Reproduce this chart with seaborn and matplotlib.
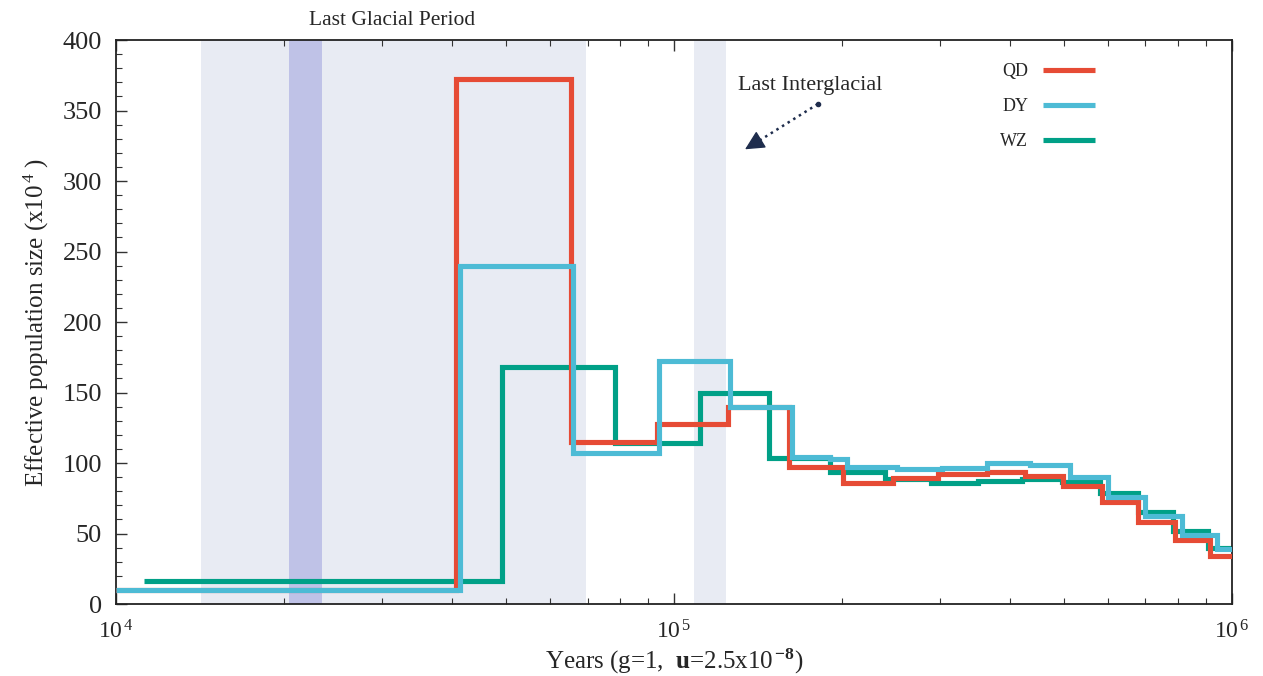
import matplotlib.pyplot as plt
import pandas as pd
import numpy as np
import seaborn as sns

# PSMC step breakpoints (years) and Ne (x10^4)
qd_years = [10000, 40680, 65380, 93110, 124960, 160740, 200600, 247200, 297700,
            363300, 425600, 498400, 584000, 679500, 790700, 913400, 1000000]
qd_ne = [9.7, 372, 115, 127.5, 140, 97, 85.6, 89.3, 92, 93.3, 91, 84, 72.5, 58.2, 45.2, 34]

dy_years = [10000, 41360, 65990, 94120, 126000, 162730, 190320, 204450, 251300,
            301900, 363300, 434500, 512400, 599600, 698600, 812900, 938900, 1000000]
dy_ne = [9.7, 239.5, 107, 172.5, 139.5, 104, 103, 97, 95.5, 96.2, 99.8, 98.6,
         89.8, 76.1, 62.4, 48.9, 38.8]

wz_years = [11240, 49120, 78410, 111330, 148050, 190320, 238800, 288400, 351200,
            420000, 495100, 580000, 679500, 785200, 907000, 1000000]
wz_ne = [16, 168, 114.5, 150, 103.8, 93.8, 88.6, 85.6, 87, 88.5, 86.3, 79, 65.5, 51.8, 39.5]

names = ['QD', 'DY', 'WZ']
colors = {'QD': '#E64B35', 'DY': '#4DBBD5', 'WZ': '#00A087'}
draw_order = ['WZ', 'QD', 'DY']

# climate periods (years)
glacial = (14200, 69500)
lgm = (20400, 23400)
interglacial = (108700, 123900)

# build long table, last value repeated so the final step reaches the edge
rows = []
for name, yrs, ne in [('QD', qd_years, qd_ne), ('DY', dy_years, dy_ne), ('WZ', wz_years, wz_ne)]:
    vals = list(ne) + [ne[-1]]
    for x, v in zip(yrs, vals):
        rows.append({'pop': name, 'years': x, 'ne': v})
df = pd.DataFrame(rows)

sns.set_theme(style='ticks')
plt.rcParams['font.family'] = ['Liberation Serif', 'DejaVu Serif']
plt.rcParams['mathtext.fontset'] = 'custom'
plt.rcParams['mathtext.rm'] = 'Liberation Serif'
plt.rcParams['mathtext.bf'] = 'Liberation Serif:bold'
plt.rcParams['mathtext.it'] = 'Liberation Serif:italic'

fig = plt.figure(figsize=(12.63, 6.76), dpi=100)
ax = fig.add_axes([0.0918, 0.1065, 0.8836, 0.8343])

ax.axvspan(*glacial, color='#E8EBF3', lw=0, zorder=0)
ax.axvspan(*lgm, color='#BFC2E7', lw=0, zorder=0)
ax.axvspan(*interglacial, color='#E8EBF3', lw=0, zorder=0)

for z, name in enumerate(draw_order):
    sub = df[df['pop'] == name]
    sns.lineplot(x=sub['years'], y=sub['ne'], color=colors[name], lw=3.7,
                 drawstyle='steps-post', label=name, ax=ax, zorder=2 + z,
                 solid_joinstyle='miter', solid_capstyle='butt')

ax.set_xscale('log')
ax.set_xlim(1e4, 1e6)
ax.set_ylim(0, 400)
ax.set_yticks(np.arange(0, 401, 50))
ax.set_yticks(np.arange(0, 401, 10), minor=True)
ax.set_xticks([1e4, 1e5, 1e6])
ax.set_xticklabels(['$10^{\\,4}$', '$10^{\\,5}$', '$10^{\\,6}$'])

ax.tick_params(axis='y', which='major', direction='in', length=8, width=1, labelsize=19, pad=10,
               right=False, color='#333333')
ax.tick_params(axis='y', which='minor', direction='in', length=4, width=0.8, right=False, color='#333333')
ax.tick_params(axis='x', which='major', direction='in', length=8, width=1, labelsize=17, pad=12,
               top=True, color='#333333')
ax.tick_params(axis='x', which='minor', direction='in', length=4, width=0.8, top=True, color='#333333')
for s in ax.spines.values():
    s.set_linewidth(1.3)
    s.set_color('#222222')

ax.set_xlabel('Years (g=1,  $\\mathbf{u}$=2.5x10$^{\\,\\mathbf{-8}}$)', fontsize=18, labelpad=2)
ax.set_ylabel('Effective population size (x10$^{\\,4}$ )', fontsize=18, labelpad=8)

ax.text(31230, 414, 'Last Glacial Period', fontsize=15.5, ha='center', va='center')
ax.text(130200, 368, 'Last Interglacial', fontsize=16, ha='left', va='center')

# dotted pointer towards the interglacial band
arrow_start = (181100, 354.6)
arrow_mid = (142000, 328.5)
arrow_tip = (134100, 322.5)
ax.plot([arrow_start[0], arrow_mid[0]], [arrow_start[1], arrow_mid[1]], ls=':', lw=1.8,
        color='#1F2D4D', zorder=6)
ax.plot([arrow_start[0]], [arrow_start[1]], 'o', ms=3, color='#1F2D4D', zorder=6)
ax.annotate('', xy=arrow_tip, xytext=arrow_mid,
            arrowprops=dict(arrowstyle='-|>,head_length=1.0,head_width=0.5', color='#1F2D4D', lw=1,
                            shrinkA=0, shrinkB=0), zorder=6)

handles, labels = ax.get_legend_handles_labels()
lookup = dict(zip(labels, handles))
ax.legend([lookup[n] for n in names], names, loc='upper right', bbox_to_anchor=(1095 / 1263, 1 - 63 / 676),
          bbox_transform=fig.transFigure, frameon=False, markerfirst=False, borderpad=0,
          borderaxespad=0, handlelength=2.9, handletextpad=0.8, labelspacing=1.0, fontsize=13)

fig.savefig('out.png', dpi=100)
